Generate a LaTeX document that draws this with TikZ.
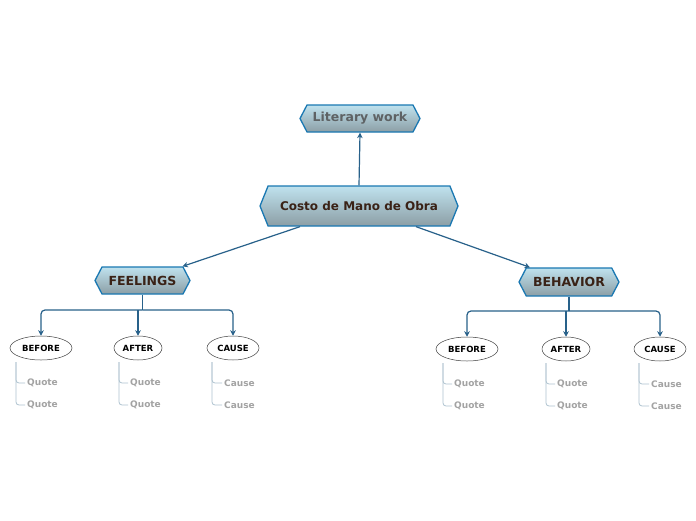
\documentclass[tikz,border=0pt]{standalone}
\usepackage{fontspec}
\setmainfont{DejaVu Sans}
\usetikzlibrary{shapes.symbols,shapes.geometric,arrows.meta}
\definecolor{hexborder}{HTML}{1A78B2}
\definecolor{hextop}{HTML}{BFE2EE}
\definecolor{hexbot}{HTML}{8C9EA5}
\definecolor{conn}{HTML}{28618A}
\definecolor{brownt}{HTML}{3A2216}
\definecolor{greyt}{HTML}{5E6264}
\definecolor{subline}{HTML}{AFC3D0}
\definecolor{subtext}{HTML}{A3A3A3}
\tikzset{
  hexnode/.style={signal, signal to=west and east, signal from=nowhere,
    draw=hexborder, line width=1.3pt, top color=hextop, bottom color=hexbot,
    font=\bfseries\fontsize{12.5}{14}\selectfont, text=brownt, inner sep=0pt,
    signal pointer angle=125},
  ovalnode/.style={ellipse, draw=black!75, line width=0.5pt, fill=white,
    font=\bfseries\fontsize{8.5}{10}\selectfont, inner sep=0pt, minimum height=24pt},
  arr/.style={draw=conn, line width=1.2pt, -{Stealth[length=5.5pt,width=5.5pt]}},
  ln/.style={draw=conn, line width=1.2pt},
  subl/.style={draw=subline, line width=0.8pt, rounded corners=3pt},
  subt/.style={font=\bfseries\fontsize{9}{10}\selectfont, text=subtext, anchor=west, inner sep=0pt}
}
\begin{document}
\begin{tikzpicture}[x=1pt,y=-1pt]
\useasboundingbox[fill=white] (0,0) rectangle (696,520);
% main nodes
\node[hexnode, text=greyt, minimum width=120pt, minimum height=27pt] (lit) at (360,118.5) {Literary work};
\node[hexnode, font=\bfseries\fontsize{12}{14}\selectfont, minimum width=198pt, minimum height=40pt, signal pointer angle=136] (costo) at (359,206) {Costo de Mano de Obra};
\node[hexnode, minimum width=95pt, minimum height=27pt] (feel) at (142.5,280.5) {FEELINGS};
\node[hexnode, minimum width=100pt, minimum height=28pt] (beh) at (569,282) {BEHAVIOR};
% connectors from root
\draw[arr] (costo.north) -- (lit.south);
\draw[arr] ([xshift=-59pt]costo.south) -- ([xshift=40pt]feel.north);
\draw[arr] ([xshift=57pt]costo.south) -- ([xshift=-39pt]beh.north);
% ovals left
\node[ovalnode, minimum width=62pt] (b1) at (41,348) {BEFORE};
\node[ovalnode, minimum width=48pt] (a1) at (138,348) {AFTER};
\node[ovalnode, minimum width=52pt] (c1) at (233,348) {CAUSE};
% ovals right
\node[ovalnode, minimum width=62pt] (b2) at (467,349) {BEFORE};
\node[ovalnode, minimum width=48pt] (a2) at (566,349) {AFTER};
\node[ovalnode, minimum width=52pt] (c2) at (660,349) {CAUSE};
% branches
\coordinate (fj) at (142.5,310);
\coordinate (bj) at (569,311);
\draw[ln] (feel.south) -- (fj);
\draw[arr, rounded corners=4pt] (fj) -| (b1.north);
\draw[arr] (a1.north |- fj) -- (a1.north);
\draw[arr, rounded corners=4pt] (fj) -| (c1.north);
\draw[ln] (beh.south) -- (bj);
\draw[arr, rounded corners=4pt] (bj) -| (b2.north);
\draw[arr] (a2.north |- bj) -- (a2.north);
\draw[arr, rounded corners=4pt] (bj) -| (c2.north);
% sub items left
\node[subt] (q11) at (27,383) {Quote};
\node[subt] (q12) at (27,405) {Quote};
\node[subt] (q21) at (130,383) {Quote};
\node[subt] (q22) at (130,405) {Quote};
\node[subt] (q31) at (224,383) {Cause};
\node[subt] (q32) at (224,405) {Cause};
\coordinate (s1) at (16,362);
\coordinate (s2) at (119,362);
\coordinate (s3) at (212,362);
\draw[subl] (s1) |- ([xshift=-2pt]q11.west);
\draw[subl] (s1) |- ([xshift=-2pt]q12.west);
\draw[subl] (s2) |- ([xshift=-2pt]q21.west);
\draw[subl] (s2) |- ([xshift=-2pt]q22.west);
\draw[subl] (s3) |- ([xshift=-2pt]q31.west);
\draw[subl] (s3) |- ([xshift=-2pt]q32.west);
% sub items right
\node[subt] (r11) at (454,384) {Quote};
\node[subt] (r12) at (454,406) {Quote};
\node[subt] (r21) at (557,384) {Quote};
\node[subt] (r22) at (557,406) {Quote};
\node[subt] (r31) at (651,384) {Cause};
\node[subt] (r32) at (651,406) {Cause};
\coordinate (t1) at (443,363);
\coordinate (t2) at (546,363);
\coordinate (t3) at (639,363);
\draw[subl] (t1) |- ([xshift=-2pt]r11.west);
\draw[subl] (t1) |- ([xshift=-2pt]r12.west);
\draw[subl] (t2) |- ([xshift=-2pt]r21.west);
\draw[subl] (t2) |- ([xshift=-2pt]r22.west);
\draw[subl] (t3) |- ([xshift=-2pt]r31.west);
\draw[subl] (t3) |- ([xshift=-2pt]r32.west);
\end{tikzpicture}
\end{document}
